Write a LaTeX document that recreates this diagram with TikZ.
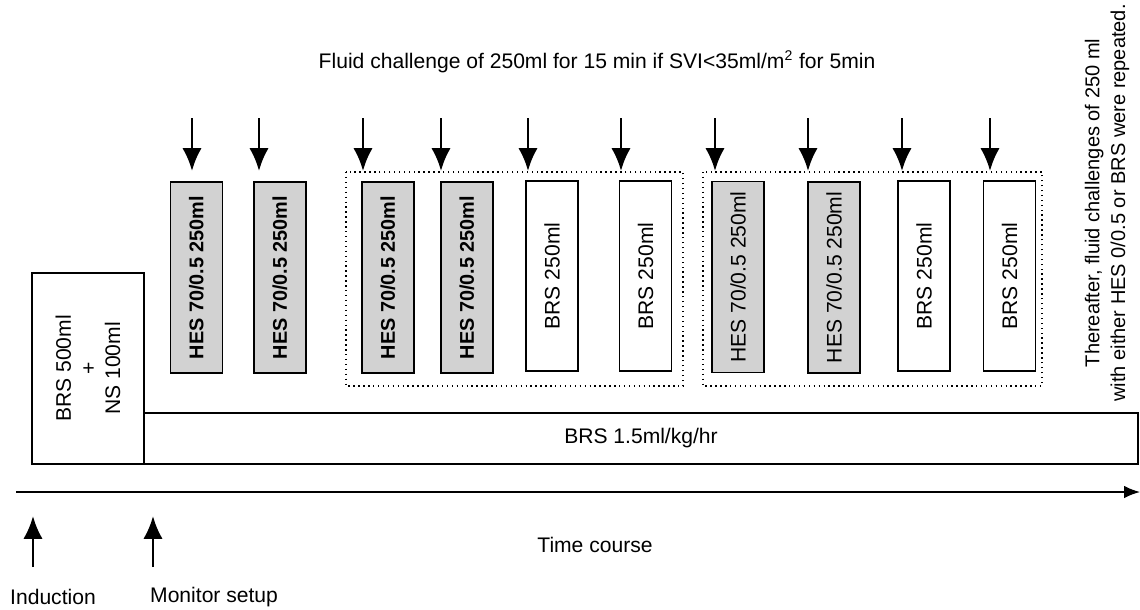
\documentclass[tikz,border=0pt]{standalone}
\usepackage{fontspec}
\setmainfont{Liberation Sans}
\usetikzlibrary{arrows.meta, positioning}

\begin{document}
\begin{tikzpicture}[x=0.02cm, y=-0.02cm, >={Latex[length=13pt, width=11pt]},
    font=\fontsize{12}{14}\selectfont,
    box/.style={draw, line width=0.8pt, rotate=90, inner sep=0pt,
        minimum width=3.82cm, minimum height=1.04cm},
    hesbox/.style={box, fill=gray!35},
    bold/.style={font=\fontsize{11.3}{14}\selectfont\bfseries},
    grp/.style={draw, dotted, line width=0.8pt},
    drop/.style={->, line width=1.6pt}]
    \useasboundingbox (0,0) rectangle (1140,609);

    % 1. Titre et note
    \node (title) at (597,62) {Fluid challenge of 250ml for 15 min if SVI<35ml/m\textsuperscript{2} for 5min};
    \node[rotate=90, align=center, font=\fontsize{11.4}{14.6}\selectfont] (note) at (1107,203)
        {Thereafter, fluid challenges of 250 ml\\with either HES 0/0.5 or BRS were repeated.};

    % 2. Perfusions de base
    \node[box, minimum height=2.24cm, align=center] (load) at (88,368.5) {BRS 500ml\\+\\NS 100ml};
    \node[draw, line width=0.8pt, minimum width=19.88cm, minimum height=1.02cm] (base) at (641,438.5) {BRS 1.5ml/kg/hr};

    % 3. Groupes en pointillés
    \draw[grp] (346,172) rectangle (683,386);
    \draw[grp] (703,172) rectangle (1042,386);

    % 4. Bolus
    \node[hesbox, bold] (h1) at (196.5,277.5) {HES 70/0.5 250ml};
    \node[hesbox, bold] (h2) at (280,277.5) {HES 70/0.5 250ml};
    \node[hesbox, bold] (h3) at (388,277.5) {HES 70/0.5 250ml};
    \node[hesbox, bold] (h4) at (467,277.5) {HES 70/0.5 250ml};
    \node[box, minimum width=3.8cm] (b1) at (552,276) {BRS 250ml};
    \node[box, minimum width=3.8cm] (b2) at (645.5,276) {BRS 250ml};
    \node[hesbox] (h5) at (738,277) {HES 70/0.5 250ml};
    \node[hesbox] (h6) at (834,277.5) {HES 70/0.5 250ml};
    \node[box, minimum width=3.8cm] (b3) at (924,276) {BRS 250ml};
    \node[box, minimum width=3.8cm] (b4) at (1009.5,276) {BRS 250ml};

    % 5. Flèches des bolus
    \foreach \x [count=\i] in {192,259,363,441,528,621,715,808,902,990} {
        \coordinate (s\i) at (\x,118);
        \coordinate (e\i) at (\x,171);
        \draw[drop] (s\i) -- (e\i);
    }

    % 6. Axe du temps
    \coordinate (t0) at (16,492);
    \coordinate (t1) at (1140,492);
    \draw[-{Latex[length=9pt, width=7pt]}, line width=0.8pt] (t0) -- (t1);
    \node (time) at (595,545) {Time course};

    % 7. Repères
    \node[anchor=west] (ind) at (4,597) {Induction};
    \node[anchor=west] (mon) at (144,597) {Monitor setup};
    \coordinate (i0) at (33,567);
    \coordinate (i1) at (33,516);
    \coordinate (m0) at (153,567);
    \coordinate (m1) at (153,516);
    \draw[drop] (i0) -- (i1);
    \draw[drop] (m0) -- (m1);
\end{tikzpicture}
\end{document}
